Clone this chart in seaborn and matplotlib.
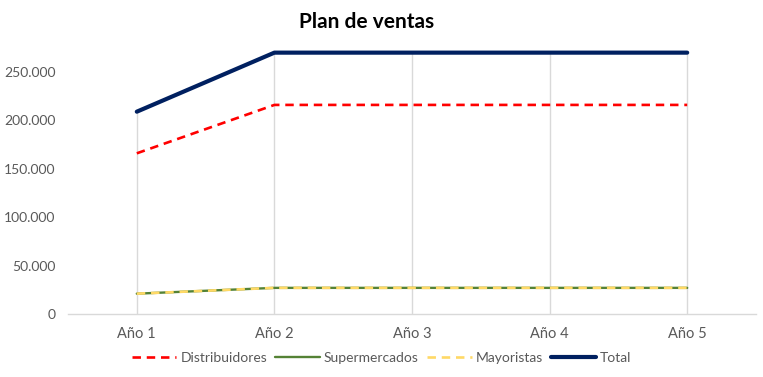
import matplotlib
matplotlib.use("Agg")
import matplotlib.pyplot as plt
import seaborn as sns
import pandas as pd
from matplotlib.ticker import FuncFormatter, FixedLocator

years = ["Año 1", "Año 2", "Año 3", "Año 4", "Año 5"]
distribuidores = [166000, 216000, 216000, 216000, 216000]
supermercados = [21000, 27000, 27000, 27000, 27000]
mayoristas = [21000, 27000, 27000, 27000, 27000]
total = [209000, 270000, 270000, 270000, 270000]
y_ticks = [0, 50000, 100000, 150000, 200000, 250000]

series = {
    "Distribuidores": distribuidores,
    "Supermercados": supermercados,
    "Mayoristas": mayoristas,
    "Total": total,
}
rows = []
for name, vals in series.items():
    for i, (yr, v) in enumerate(zip(years, vals)):
        rows.append({"idx": i, "Año": yr, "Serie": name, "Valor": v})
df = pd.DataFrame(rows)

sns.set_theme(style="white")
plt.rcParams["font.family"] = ["Lato", "DejaVu Sans"]

fig = plt.figure(figsize=(7.63, 3.77), dpi=100)
ax = fig.add_axes([68 / 763, 1 - 314 / 377, (756 - 68) / 763, (314 - 23.6) / 377])

styles = {
    "Distribuidores": dict(color="#FF0000", lw=1.9, ls=(0, (3.2, 2.2)), z=3),
    "Supermercados": dict(color="#548235", lw=1.7, ls="-", z=3),
    "Mayoristas": dict(color="#FFD966", lw=1.9, ls=(0, (3.2, 2.2)), z=4),
    "Total": dict(color="#002060", lw=3.0, ls="-", z=5),
}

# drop lines
ax.vlines(range(len(years)), 0, total, color="#D9D9D9", lw=1.0, zorder=1)

for name in series:
    st = styles[name]
    sub = df[df["Serie"] == name]
    sns.lineplot(data=sub, x="idx", y="Valor", ax=ax, color=st["color"],
                 linewidth=st["lw"], linestyle=st["ls"], zorder=st["z"],
                 label=name, legend=False, solid_capstyle="round")

ax.set_xlim(-0.5, len(years) - 0.5)
ax.set_ylim(0, 300000)
ax.xaxis.set_major_locator(FixedLocator(list(range(len(years)))))
ax.set_xticklabels(years)
ax.yaxis.set_major_locator(FixedLocator(y_ticks))
ax.yaxis.set_major_formatter(FuncFormatter(lambda v, p: f"{int(v):,}".replace(",", ".")))
ax.set_xlabel("")
ax.set_ylabel("")
ax.grid(False)
for s in ["top", "right", "left"]:
    ax.spines[s].set_visible(False)
ax.spines["bottom"].set_color("#D9D9D9")
ax.spines["bottom"].set_linewidth(1.0)
ax.tick_params(axis="both", length=0, colors="#595959", labelsize=10.5)
ax.tick_params(axis="y", pad=9, labelsize=10)
ax.tick_params(axis="x", pad=9)

fig.text(0.48, 1 - 22 / 377, "Plan de ventas", ha="center", va="center",
         fontsize=15, fontweight="bold", color="#000000")

handles, labels = ax.get_legend_handles_labels()
leg = fig.legend(handles, labels, loc="center", bbox_to_anchor=(0.5, 1 - 358 / 377),
                 ncol=4, frameon=False, fontsize=10, handlelength=3.2,
                 columnspacing=0.6, handletextpad=0.3, labelcolor="#595959")

fig.savefig("out.png", dpi=100)
